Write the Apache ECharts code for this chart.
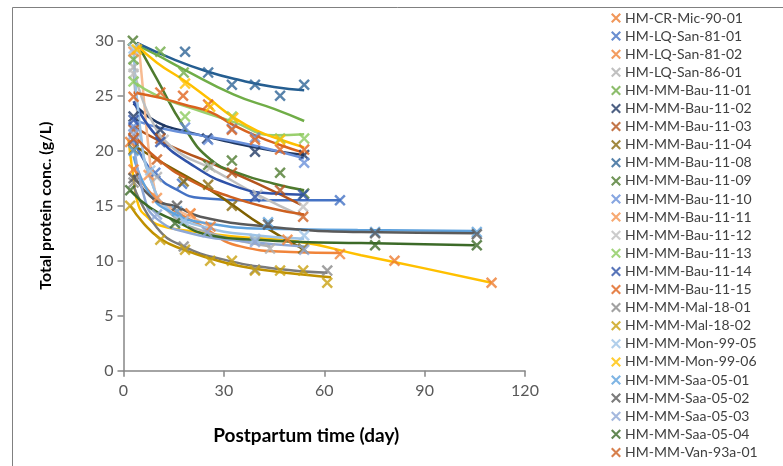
<!DOCTYPE html>
<html>
<head>
<meta charset="utf-8">
<script src="https://cdn.jsdelivr.net/npm/echarts@6/dist/echarts.min.js"></script>
<style>
html, body { margin: 0; padding: 0; background: #fff; }
#chart { width: 783px; height: 466px; }
</style>
</head>
<body>
<div id="chart"></div>
<script>
// Sample names, in legend order
const names = [
  'HM-CR-Mic-90-01', 'HM-LQ-San-81-01', 'HM-LQ-San-81-02', 'HM-LQ-San-86-01',
  'HM-MM-Bau-11-01', 'HM-MM-Bau-11-02', 'HM-MM-Bau-11-03', 'HM-MM-Bau-11-04',
  'HM-MM-Bau-11-08', 'HM-MM-Bau-11-09', 'HM-MM-Bau-11-10', 'HM-MM-Bau-11-11',
  'HM-MM-Bau-11-12', 'HM-MM-Bau-11-13', 'HM-MM-Bau-11-14', 'HM-MM-Bau-11-15',
  'HM-MM-Mal-18-01', 'HM-MM-Mal-18-02', 'HM-MM-Mon-99-05', 'HM-MM-Mon-99-06',
  'HM-MM-Saa-05-01', 'HM-MM-Saa-05-02', 'HM-MM-Saa-05-03', 'HM-MM-Saa-05-04',
  'HM-MM-Van-93a-01'
];

const markerColors = [
  '#ED7D31', '#4472C4', '#F0843A', '#B0B0B0',
  '#70AD47', '#203864', '#B4541C', '#8A6A0E',
  '#2E6496', '#4E7A2E', '#6990DA', '#F5944F',
  '#BFBFBF', '#8CCB5E', '#2F52A8', '#E0641E',
  '#8A8A8A', '#C9A010', '#9DC3E6', '#FFC000',
  '#5FA2DD', '#5A5A5A', '#8FA8D6', '#3C6A28',
  '#CD6020'
];

const curveColors = [
  '#FFC000', '#4472C4', '#F0843A', '#B0B0B0',
  '#70AD47', '#1F3864', '#B4541C', '#7F6000',
  '#255E91', '#4E7A2E', '#6990DA', '#F7BB92',
  '#BFBFBF', '#9ACF6E', '#2F52A8', '#D9631E',
  '#7A7A7A', '#BF9000', '#9DC3E6', '#FFC000',
  '#5FA2DD', '#5A5A5A', '#8FA8D6', '#3C6A28',
  '#CD6020'
];

// Measured protein concentration (g/L) against postpartum day
const measured = [
  [[2, 20.8], [81, 10.0], [110, 8.0]],
  [[3, 21.0], [9.5, 18.0], [17.5, 17.0], [64.7, 15.5]],
  [[3, 18.3], [20, 14.3], [26, 13.1], [49, 11.9], [64.7, 10.6]],
  [[3, 27.6], [10, 17.6], [39.3, 11.9], [43.8, 11.1]],
  [[3, 28.3], [11, 29.0], [18, 27.1]],
  [[3, 23.1], [11, 21.9], [25, 21.1], [39.3, 19.9], [54, 19.6]],
  [[3, 21.9], [11, 21.1], [32.4, 18.0], [46.8, 16.4]],
  [[3, 20.1], [18, 17.2], [25.3, 16.9], [32.4, 15.0], [53.7, 11.1]],
  [[18.4, 29.0], [25.3, 27.1], [32.4, 26.0], [39.3, 26.0], [46.8, 25.0], [54, 26.0]],
  [[2.8, 30.0], [25.3, 18.7], [32.4, 19.1], [46.8, 18.0], [54, 16.1]],
  [[3, 22.2], [18.4, 22.1], [25.3, 21.0], [32.4, 22.0], [39.3, 21.2], [54, 18.9]],
  [[3, 29.0], [7.5, 17.8], [10, 15.7], [20, 14.3]],
  [[3, 27.0], [12, 21.0], [26, 18.5], [40, 16.0], [53.7, 14.9]],
  [[3, 26.3], [18.4, 23.1], [32.4, 23.1], [46.8, 21.1], [54, 21.1]],
  [[3, 22.8], [11, 20.8], [39.3, 15.8], [53.7, 16.0]],
  [[3, 24.9], [11, 25.3], [17.8, 25.0], [25.3, 24.2], [32.4, 21.9], [39.3, 21.0], [46.8, 20.1], [54, 20.1]],
  [[3, 17.1], [18, 11.3], [39.3, 9.2], [60.9, 9.1]],
  [[2, 15.0], [11, 11.9], [18.4, 11.0], [25.9, 10.0], [32.4, 10.0], [39.3, 9.1], [46.8, 9.1], [53.7, 9.1], [60.9, 8.0]],
  [[3, 29.3], [8, 18.2], [18, 13.6], [39.3, 12.0], [54, 12.3]],
  [[4, 29.2], [18.4, 26.1], [25.9, 24.0], [32.8, 23.0], [46.8, 21.0]],
  [[3, 20.0], [16, 14.5], [43.2, 13.5], [75.2, 12.6], [105.6, 12.6]],
  [[3, 17.5], [16, 15.0], [43.2, 13.3], [75.2, 12.5], [105.6, 12.4]],
  [[3, 21.5], [10, 14.2], [25, 12.6], [39.3, 11.7], [54, 11.0]],
  [[2, 16.4], [15.4, 13.4], [75.2, 11.4], [105.6, 11.4]],
  [[3, 21.1], [10, 19.2], [53.7, 14.0]]
];

// Trend curves as traced on the chart
const trends = [
  [[1.5, 21], [3, 17.5], [4.5, 15.0], [7, 14.0], [11, 13.2], [20, 12.7], [33, 12.2], [53, 11.7], [71, 10.5], [90, 9.3], [110, 8.0]],
  [[3, 21], [6, 19.2], [10, 17.7], [15, 16.6], [23, 15.7], [40, 15.5], [65, 15.5]],
  [[3, 18.5], [8, 16.2], [15, 14.6], [22, 13.4], [35, 11.3], [50, 10.8], [65, 10.7]],
  [[3, 27.2], [5, 21.5], [8, 17.5], [14, 14.3], [25, 12.6], [44, 11.3]],
  [[4, 29.6], [10, 28.7], [18, 27.4], [33, 25.1], [45, 23.8], [54, 22.7]],
  [[3, 24.3], [10, 22.6], [18, 21.8], [33, 20.7], [45, 20.0], [54, 19.6]],
  [[3, 22.2], [10, 21], [18, 19.9], [26, 18.9], [40, 17], [53, 15.1]],
  [[3, 20.5], [10, 19.2], [18, 17.8], [25, 16.6], [32, 15.2], [41, 13.3], [54, 11.0]],
  [[4, 29.8], [15, 28.3], [25, 27.2], [35, 26.4], [45, 25.8], [54, 25.5]],
  [[4, 29.8], [10, 26.5], [18, 22.2], [26, 19.2], [35, 17.9], [45, 17.0], [54, 16.4]],
  [[3, 22.8], [12, 22.0], [25, 21.3], [40, 20.4], [54, 19.3]],
  [[4.5, 29.8], [6, 25], [7.5, 20.2], [9, 17], [11, 15.3], [16, 14.6], [26, 13.1]],
  [[3, 27.5], [8, 23], [15, 20.2], [26, 18.4], [40, 16.0], [53, 14.1]],
  [[3, 26.3], [10, 25], [20, 23.9], [33, 22.6], [45, 21.4], [54, 21.5]],
  [[3, 24.5], [10, 21.3], [20, 18.8], [33, 16.8], [45, 16.1], [54, 16.0]],
  [[3, 25.3], [11, 24.8], [18, 24.2], [26, 23.5], [33, 22.3], [40, 21.3], [47, 20.5], [54, 19.8]],
  [[3, 16.8], [10, 13], [18, 11.3], [30, 10.1], [45, 9.3], [61, 8.9]],
  [[2, 15], [6, 13.4], [11, 12], [18, 11], [26, 10.2], [35, 9.5], [46, 9.0], [55, 8.7], [62, 8.5]],
  [[3, 29], [5, 22], [8, 17.5], [14, 14.5], [25, 13], [40, 12.3], [54, 12.0]],
  [[4, 29.6], [10, 28], [18, 26.4], [26, 24.6], [33, 23.0], [40, 21.8], [47, 21.0], [54, 20.3]],
  [[3, 19.5], [8, 16], [15, 14.3], [25, 13.4], [43, 12.9], [70, 12.8], [105, 12.7]],
  [[3, 17.8], [9, 15.6], [16, 14.9], [23, 14.0], [43, 13.1], [71, 12.6], [105, 12.5]],
  [[3, 21], [6, 16], [10, 13.8], [20, 12.5], [35, 11.8], [54, 11.3]],
  [[2, 16.4], [8, 14.8], [15, 13.7], [26, 12.3], [40, 11.9], [53, 11.7], [71, 11.6], [105, 11.4]],
  [[3, 21.5], [10, 19.3], [20, 17.3], [32, 15.8], [45, 14.7], [54, 14.2]]
];

// Axis scales
const xRange = [0, 120, 30];
const yRange = [0, 30, 5];

const crossMark = 'path://M0,1.5 L1.5,0 L10,8.5 L8.5,10 Z M8.5,0 L10,1.5 L1.5,10 L0,8.5 Z';
const fontFamily = 'Lato, "Open Sans", sans-serif';

const series = [];
names.forEach((name, i) => {
  series.push({
    name: name + ' trend',
    type: 'line',
    data: trends[i],
    smooth: 0.5,
    showSymbol: false,
    silent: true,
    lineStyle: { color: curveColors[i], width: 2.5 },
    z: 2
  });
  series.push({
    name: name,
    type: 'scatter',
    data: measured[i],
    symbol: crossMark,
    symbolSize: 11.5,
    itemStyle: { color: markerColors[i] },
    z: 3
  });
});

const chart = echarts.init(document.getElementById('chart'), null, { renderer: 'canvas' });
chart.setOption({
  animation: false,
  backgroundColor: '#fff',
  grid: { left: 123.5, right: 258, top: 40.7, bottom: 95.3, containLabel: false },
  xAxis: {
    type: 'value',
    min: xRange[0], max: xRange[1], interval: xRange[2],
    name: 'Postpartum time (day)',
    nameLocation: 'middle',
    nameGap: 56,
    nameTextStyle: { fontFamily, fontSize: 19, fontWeight: 'bold', color: '#000', padding: [0, 36, 0, 0] },
    axisLine: { lineStyle: { color: '#868686', width: 1.5 } },
    axisTick: { show: true, length: 6, lineStyle: { color: '#868686', width: 1.5 } },
    axisLabel: { fontFamily, fontSize: 16, color: '#595959', margin: 12 },
    splitLine: { show: false }
  },
  yAxis: {
    type: 'value',
    min: yRange[0], max: yRange[1], interval: yRange[2],
    name: 'Total protein conc. (g/L)',
    nameLocation: 'middle',
    nameGap: 70,
    nameTextStyle: { fontFamily, fontSize: 16, fontWeight: 'bold', color: '#000' },
    axisLine: { show: true, lineStyle: { color: '#868686', width: 1.5 } },
    axisTick: { show: true, length: 6, lineStyle: { color: '#868686', width: 1.5 } },
    axisLabel: { fontFamily, fontSize: 16, color: '#595959', margin: 10 },
    splitLine: { show: false }
  },
  legend: {
    orient: 'vertical',
    left: 606,
    top: 6,
    itemWidth: 10,
    itemHeight: 10,
    itemGap: 4.1,
    data: names.map(n => ({ name: n, icon: crossMark })),
    textStyle: { fontFamily, fontSize: 14, color: '#404040', padding: [0, 0, 0, -1] },
    selectedMode: false
  },
  graphic: [{
    type: 'polyline',
    shape: { points: [[12.5, 466], [12.5, 7.5], [783, 7.5]] },
    style: { stroke: '#808080', lineWidth: 1, fill: null },
    silent: true
  }],
  series
});
</script>
</body>
</html>
